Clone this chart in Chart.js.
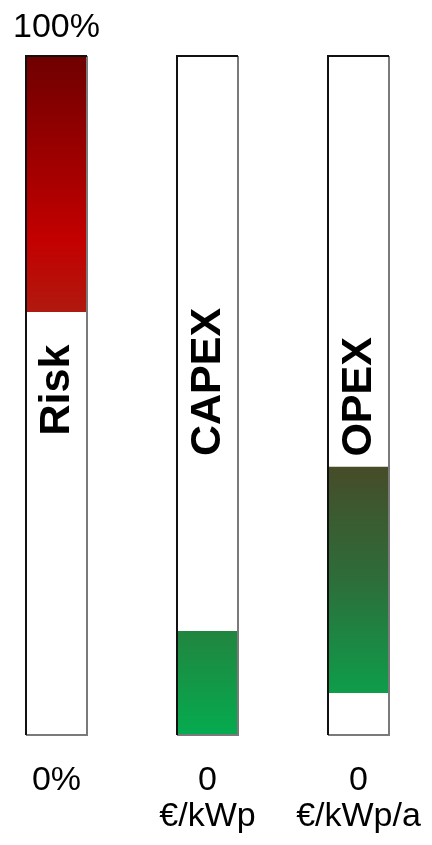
<!DOCTYPE html>
<html lang="fr">
<head>
<meta charset="utf-8">
<title>Risk / CAPEX / OPEX</title>
<script src="https://cdn.jsdelivr.net/npm/chart.js@4/dist/chart.umd.min.js"></script>
<style>
  html, body { margin: 0; padding: 0; background: #fff; }
  canvas { display: block; }
</style>
</head>
<body>
<canvas id="graphique" width="432" height="845"></canvas>
<script>
// =====================================================================
// Jauges verticales : risque, coût d'investissement, coût d'exploitation
// =====================================================================

const categories = ['Risk', 'CAPEX', 'OPEX'];
// Début et fin de chaque barre flottante, en % de l'échelle
const valeursBas = [62.3, 0, 6.2];
const valeursHaut = [100, 15.3, 39.5];
const echelleMax = 100;
// Libellés au-dessus et au-dessous des jauges
const libellesHaut = ['100%', '', ''];
const libellesBas = [['0%'], ['0', '€/kWp'], ['0', '€/kWp/a']];

// Dégradés verticaux (du haut vers le bas de chaque barre)
const degradeCouleurs = [
  [[0, '#6f0000'], [0.72, '#c30000'], [1, '#b0190f']],
  [[0, '#21853f'], [1, '#05ab50']],
  [[0, '#464c28'], [0.5, '#2d6d3a'], [1, '#0e9d4a']]
];

function degrade(context) {
  const chart = context.chart;
  const couleurs = degradeCouleurs[context.dataIndex];
  if (!chart.chartArea || !context.raw) return couleurs[0][1];
  const y = chart.scales.y;
  const [bas, haut] = context.raw;
  const g = chart.ctx.createLinearGradient(0, y.getPixelForValue(haut), 0, y.getPixelForValue(bas));
  couleurs.forEach(([pos, c]) => g.addColorStop(pos, c));
  return g;
}

// Cadres des jauges + textes (noms verticaux, bornes haut/bas)
const pluginJauges = {
  id: 'jauges',
  afterDatasetsDraw(chart, args, opts) {
    const ctx = chart.ctx;
    const cadres = chart.getDatasetMeta(1).data;
    const y = chart.scales.y;

    ctx.save();
    cadres.forEach((el) => {
      const g = el.x - el.width / 2;
      const d = el.x + el.width / 2;
      const h = el.y;
      const b = el.base;
      ctx.lineWidth = 2;
      ctx.strokeStyle = '#7a7a7a';
      ctx.beginPath();
      ctx.moveTo(d, h);
      ctx.lineTo(d, b);
      ctx.lineTo(g, b);
      ctx.stroke();
      ctx.strokeStyle = '#111';
      ctx.beginPath();
      ctx.moveTo(g, b);
      ctx.lineTo(g, h);
      ctx.lineTo(d, h);
      ctx.stroke();
    });

    ctx.fillStyle = '#000';
    ctx.textAlign = 'center';
    ctx.textBaseline = 'alphabetic';

    // Noms des jauges, écrits de bas en haut
    ctx.font = 'bold 43px "Liberation Sans", Arial, sans-serif';
    cadres.forEach((el, i) => {
      ctx.save();
      ctx.translate(el.x + 12, y.getPixelForValue(opts.positionsNoms[i]));
      ctx.rotate(-Math.PI / 2);
      ctx.fillText(categories[i], 0, 0);
      ctx.restore();
    });

    ctx.font = '34px "Liberation Sans", Arial, sans-serif';
    cadres.forEach((el, i) => {
      if (libellesHaut[i]) ctx.fillText(libellesHaut[i], el.x, y.top - 19);
      libellesBas[i].forEach((ligne, j) => {
        ctx.fillText(ligne, el.x, y.bottom + 55 + j * 36);
      });
    });
    ctx.restore();
  }
};

const ctx = document.getElementById('graphique').getContext('2d');

new Chart(ctx, {
  type: 'bar',
  data: {
    labels: categories,
    datasets: [
      {
        label: 'Valeur',
        data: categories.map((c, i) => [valeursBas[i], valeursHaut[i]]),
        backgroundColor: degrade,
        borderWidth: 0,
        grouped: false,
        order: 1,
        clip: false,
        barPercentage: 0.404,
        categoryPercentage: 1
      },
      {
        label: 'Cadre',
        data: categories.map(() => [0, echelleMax]),
        backgroundColor: '#fff',
        borderWidth: 0,
        grouped: false,
        order: 2,
        clip: false,
        barPercentage: 0.404,
        categoryPercentage: 1
      }
    ]
  },
  options: {
    responsive: false,
    animation: false,
    devicePixelRatio: 1,
    layout: { padding: { left: 56.5, right: 73.5, top: 56, bottom: 110 } },
    plugins: {
      legend: { display: false },
      tooltip: { enabled: false },
      jauges: { positionsNoms: [50.8, 52, 49.8] }
    },
    scales: {
      x: { display: false, offset: false },
      y: { display: false, min: 0, max: echelleMax }
    }
  },
  plugins: [pluginJauges]
});
</script>
</body>
</html>
